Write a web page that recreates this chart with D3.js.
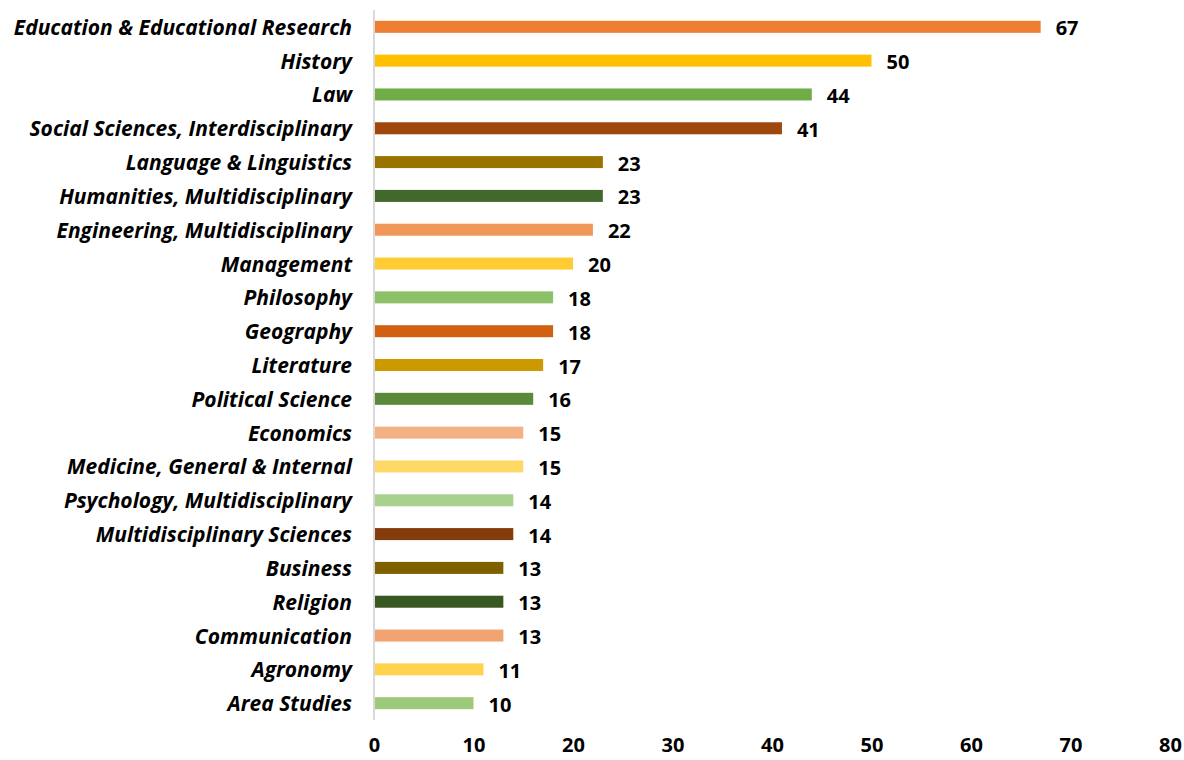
<!DOCTYPE html>
<html><head><meta charset="utf-8">
<script src="https://cdn.jsdelivr.net/npm/d3@7"></script>
<style>body{margin:0;background:#fff;} svg text{font-family:"Open Sans",sans-serif;}</style>
</head><body>
<svg id="c" width="1184" height="760"></svg>
<script>
const categories = ["Education & Educational Research","History","Law","Social Sciences, Interdisciplinary","Language & Linguistics","Humanities, Multidisciplinary","Engineering, Multidisciplinary","Management","Philosophy","Geography","Literature","Political Science","Economics","Medicine, General & Internal","Psychology, Multidisciplinary","Multidisciplinary Sciences","Business","Religion","Communication","Agronomy","Area Studies"];
const values = [67,50,44,41,23,23,22,20,18,18,17,16,15,15,14,14,13,13,13,11,10];
const colors = ["#ED7D31","#FFC000","#70AD47","#9E480E","#997300","#43682B","#F1975A","#FFCD33","#8CC168","#D26012","#CC9A00","#5A8A39","#F4B183","#FFD966","#A9D18E","#843C0C","#7F6000","#385723","#F1A46F","#FFD34E","#9DC97A"];
const xTicks = [0,10,20,30,40,50,60,70,80];

const svg = d3.select("#c");
const x = d3.scaleLinear().domain([0,80]).range([374,1170]);
const y = d3.scaleBand().domain(categories).range([10,720]).paddingInner(0.645).paddingOuter(0.32);

svg.append("g").selectAll("rect").data(categories).join("rect")
  .attr("x", x(0)).attr("y", d => y(d))
  .attr("width", (d,i) => x(values[i]) - x(0))
  .attr("height", y.bandwidth())
  .attr("fill", (d,i) => colors[i]);

svg.append("line").attr("x1", x(0)).attr("x2", x(0)).attr("y1", 10).attr("y2", 720)
  .attr("stroke", "#d9d9d9").attr("stroke-width", 2);

svg.append("g").selectAll("text").data(categories).join("text")
  .attr("x", 352).attr("y", d => y(d) + y.bandwidth()/2)
  .attr("text-anchor","end").attr("dominant-baseline","central")
  .attr("font-size", 21).attr("font-weight","bold").attr("font-style","italic")
  .attr("fill","#000").text(d => d);

svg.append("g").selectAll("text").data(categories).join("text")
  .attr("x", (d,i) => x(values[i]) + 15).attr("y", d => y(d) + y.bandwidth()/2 + 1)
  .attr("dominant-baseline","central")
  .attr("font-size", 20).attr("font-weight","bold")
  .attr("fill","#000").text((d,i) => values[i]);

const ax = d3.axisBottom(x).tickValues(xTicks).tickSize(0).tickPadding(0);
const g = svg.append("g").attr("transform","translate(0,738)").call(ax);
g.select(".domain").remove();
g.selectAll("text").attr("font-size",20).attr("font-weight","bold").attr("fill","#000")
  .style("font-family","'Open Sans',sans-serif");
</script>
</body></html>
